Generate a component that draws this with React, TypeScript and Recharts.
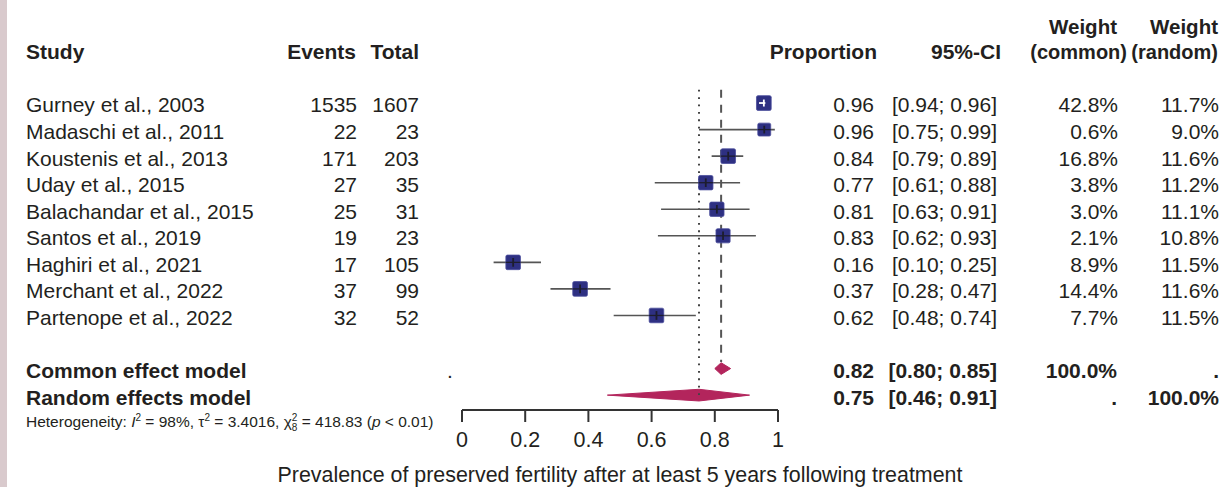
import React from "react";
import {
    ComposedChart,
    Scatter,
    ErrorBar,
    Area,
    XAxis,
    YAxis,
    ReferenceLine,
} from "recharts";

const studies = [
    "Gurney et al., 2003",
    "Madaschi et al., 2011",
    "Koustenis et al., 2013",
    "Uday et al., 2015",
    "Balachandar et al., 2015",
    "Santos et al., 2019",
    "Haghiri et al., 2021",
    "Merchant et al., 2022",
    "Partenope et al., 2022",
];
const events = [1535, 22, 171, 27, 25, 19, 17, 37, 32];
const totals = [1607, 23, 203, 35, 31, 23, 105, 99, 52];
const proportion = [0.9552, 0.9565, 0.8424, 0.7714, 0.8065, 0.8261, 0.1619, 0.3737, 0.6154];
const ciLower = [0.94, 0.75, 0.79, 0.61, 0.63, 0.62, 0.1, 0.28, 0.48];
const ciUpper = [0.96, 0.99, 0.89, 0.88, 0.91, 0.93, 0.25, 0.47, 0.74];
const weightCommon = [42.8, 0.6, 16.8, 3.8, 3.0, 2.1, 8.9, 14.4, 7.7];
const weightRandom = [11.7, 9.0, 11.6, 11.2, 11.1, 10.8, 11.5, 11.6, 11.5];

const models = ["Common effect model", "Random effects model"];
const modelEst = [0.82, 0.75];
const modelLower = [0.8, 0.46];
const modelUpper = [0.85, 0.91];
const modelWeightCommon = ["100.0%", "."];
const modelWeightRandom = [".", "100.0%"];

const xTicks = [0, 0.2, 0.4, 0.6, 0.8, 1];
const xLabel = "Prevalence of preserved fertility after at least 5 years following treatment";

const FONT = "'Liberation Sans', Arial, sans-serif";
const INK = "#231f20";
const NAVY = "#2e3082";
const CRIMSON = "#b3255c";

const HEADER_ROW = -2;
const modelRows = [10, 11];
const rowTicks = [HEADER_ROW, ...studies.map((s, i) => i), ...modelRows];

const studyPoints = studies.map((s, i) => ({
    x: proportion[i],
    y: i,
    err: [proportion[i] - ciLower[i], ciUpper[i] - proportion[i]],
    w: weightRandom[i],
    narrow: ciUpper[i] - ciLower[i] < 0.04,
}));

// CIs that fit inside their square are drawn in white on top of it
const narrowSegments = studyPoints
    .filter((p) => p.narrow)
    .map((p) => [
        { x: ciLower[p.y], y: p.y },
        { x: ciUpper[p.y], y: p.y },
    ]);
const narrowPoints = studyPoints.filter((p) => p.narrow);

const diamonds = models.map((m, i) => {
    const r = modelRows[i];
    const h = 0.22;
    return [
        { x: modelLower[i], band: [r, r] },
        { x: modelEst[i], band: [r - h, r + h] },
        { x: modelUpper[i], band: [r, r] },
    ];
});

const fmt = (v: number) => v.toFixed(2);

const txt = (x: number, y: number, s: string, anchor: string, bold = false, size = 21) => (
    <text
        x={x}
        y={y}
        dy="0.45em"
        textAnchor={anchor}
        fontFamily={FONT}
        fontSize={size}
        fontWeight={bold ? "bold" : "normal"}
        fill={INK}
    >
        {s}
    </text>
);

function LeftTick(props: any) {
    const { y, payload } = props;
    const v = payload.value;
    if (v === HEADER_ROW) {
        return (
            <g>
                {txt(26, y, "Study", "start", true)}
                {txt(356, y, "Events", "end", true)}
                {txt(419, y, "Total", "end", true)}
            </g>
        );
    }
    if (v >= 0 && v < studies.length) {
        return (
            <g>
                {txt(26, y, studies[v], "start")}
                {txt(357, y, String(events[v]), "end")}
                {txt(419, y, String(totals[v]), "end")}
            </g>
        );
    }
    const m = modelRows.indexOf(v);
    if (m === 0) {
        return (
            <g>
                {txt(26, y, models[0], "start", true)}
                {txt(450, y, ".", "middle")}
            </g>
        );
    }
    if (m === 1) {
        return (
            <g>
                {txt(26, y, models[1], "start", true)}
                <text x={26} y={y + 32} fontFamily={FONT} fontSize={15.5} fill={INK}>
                    Heterogeneity: <tspan fontStyle="italic">I</tspan>
                    <tspan dy={-6} fontSize={10}>2</tspan>
                    <tspan dy={6}> = 98%, τ</tspan>
                    <tspan dy={-6} fontSize={10}>2</tspan>
                    <tspan dy={6}> = 3.4016, χ</tspan>
                    <tspan dy={-6} fontSize={10}>2</tspan>
                    <tspan dx={-5.6} dy={10} fontSize={10}>8</tspan>
                    <tspan dy={-4}> = 418.83 (</tspan>
                    <tspan fontStyle="italic">p</tspan>
                    <tspan> &lt; 0.01)</tspan>
                </text>
            </g>
        );
    }
    return <g />;
}

function RightTick(props: any) {
    const { y, payload } = props;
    const v = payload.value;
    if (v === HEADER_ROW) {
        return (
            <g>
                {txt(877, y, "Proportion", "end", true)}
                {txt(1001, y, "95%-CI", "end", true)}
                {txt(1117, y - 25, "Weight", "end", true, 20.5)}
                {txt(1127, y, "(common)", "end", true, 20)}
                {txt(1218, y - 25, "Weight", "end", true, 20.5)}
                {txt(1218, y, "(random)", "end", true, 20)}
            </g>
        );
    }
    if (v >= 0 && v < studies.length) {
        return (
            <g>
                {txt(874, y, fmt(proportion[v]), "end")}
                {txt(997, y, `[${fmt(ciLower[v])}; ${fmt(ciUpper[v])}]`, "end")}
                {txt(1118, y, `${weightCommon[v].toFixed(1)}%`, "end")}
                {txt(1219, y, `${weightRandom[v].toFixed(1)}%`, "end")}
            </g>
        );
    }
    const m = modelRows.indexOf(v);
    if (m >= 0) {
        return (
            <g>
                {txt(874, y, fmt(modelEst[m]), "end", true)}
                {txt(997, y, `[${fmt(modelLower[m])}; ${fmt(modelUpper[m])}]`, "end", true)}
                {txt(1117, y, modelWeightCommon[m], "end", true)}
                {txt(1219, y, modelWeightRandom[m], "end", true)}
            </g>
        );
    }
    return <g />;
}

const StudySquare = (props: any) => {
    const { cx, cy, payload } = props;
    const side = 4.3 * Math.sqrt(payload.w);
    return (
        <g>
            <rect
                x={cx - side / 2}
                y={cy - side / 2}
                width={side}
                height={side}
                rx={1.5}
                fill={NAVY}
                stroke="#4a4c9c"
                strokeWidth={0.8}
            />
            {!payload.narrow && (
                <g stroke="#1d1d2e">
                    <line x1={cx - side / 2} y1={cy} x2={cx + side / 2} y2={cy} strokeWidth={1.3} />
                    <line x1={cx} y1={cy - side * 0.3} x2={cx} y2={cy + side * 0.3} strokeWidth={1.8} />
                </g>
            )}
        </g>
    );
};

const WhiteTick = (props: any) => {
    const { cx, cy } = props;
    return <line x1={cx} y1={cy - 3.5} x2={cx} y2={cy + 3.5} stroke="#fff" strokeWidth={1.8} />;
};

const NoShape = () => <g />;

export default function App() {
    return (
        <div style={{ position: "absolute", left: 0, top: 0, width: 1224, height: 487, background: "#fff" }}>
            <div style={{ position: "absolute", left: 0, top: 0, width: 7, height: 487, background: "#d9cacd" }} />
            <ComposedChart
                width={1224}
                height={487}
                margin={{ top: 0, right: 0, bottom: 0, left: 0 }}
            >
                <XAxis
                    dataKey="x"
                    type="number"
                    domain={[0, 1]}
                    ticks={xTicks}
                    height={77}
                    stroke="#333"
                    strokeWidth={2}
                    tickSize={12}
                    tickMargin={10}
                    tick={{ fontSize: 21.5, fill: INK, fontFamily: FONT }}
                    tickLine={{ stroke: "#333", strokeWidth: 2 }}
                    label={{
                        value: xLabel,
                        position: "insideBottom",
                        offset: 5,
                        fontSize: 21.4,
                        fill: INK,
                        fontFamily: FONT,
                    }}
                />
                <YAxis
                    yAxisId="left"
                    dataKey="y"
                    type="number"
                    domain={[-3.88, 11.56]}
                    allowDataOverflow
                    reversed
                    width={462}
                    ticks={rowTicks}
                    interval={0}
                    axisLine={false}
                    tickLine={false}
                    tick={<LeftTick />}
                />
                <YAxis
                    yAxisId="right"
                    orientation="right"
                    type="number"
                    domain={[-3.88, 11.56]}
                    allowDataOverflow
                    reversed
                    width={446}
                    ticks={rowTicks}
                    interval={0}
                    axisLine={false}
                    tickLine={false}
                    tick={<RightTick />}
                />
                <ReferenceLine
                    yAxisId="left"
                    segment={[
                        { x: modelEst[1], y: -0.5 },
                        { x: modelEst[1], y: modelRows[1] },
                    ]}
                    stroke="#444"
                    strokeWidth={2}
                    strokeDasharray="1.8 5.6"
                />
                <ReferenceLine
                    yAxisId="left"
                    segment={[
                        { x: modelEst[0], y: -0.5 },
                        { x: modelEst[0], y: modelRows[0] - 0.25 },
                    ]}
                    stroke="#555"
                    strokeWidth={2}
                    strokeDasharray="8 7"
                />
                {diamonds.map((d, i) => (
                    <Area
                        key={i}
                        yAxisId="left"
                        data={d}
                        dataKey="band"
                        type="linear"
                        fill={CRIMSON}
                        fillOpacity={1}
                        stroke={CRIMSON}
                        strokeWidth={1}
                        dot={false}
                        activeDot={false}
                        isAnimationActive={false}
                    />
                ))}
                <Scatter
                    yAxisId="left"
                    data={studyPoints}
                    shape={<StudySquare />}
                    isAnimationActive={false}
                >
                    <ErrorBar dataKey="err" direction="x" width={0} stroke="#555" strokeWidth={1.6} />
                </Scatter>
                {narrowSegments.map((seg, i) => (
                    <Scatter
                        key={`n${i}`}
                        yAxisId="left"
                        data={seg}
                        line={{ stroke: "#fff", strokeWidth: 1.8 }}
                        shape={<NoShape />}
                        isAnimationActive={false}
                    />
                ))}
                <Scatter
                    yAxisId="left"
                    data={narrowPoints}
                    shape={<WhiteTick />}
                    isAnimationActive={false}
                />
            </ComposedChart>
        </div>
    );
}
